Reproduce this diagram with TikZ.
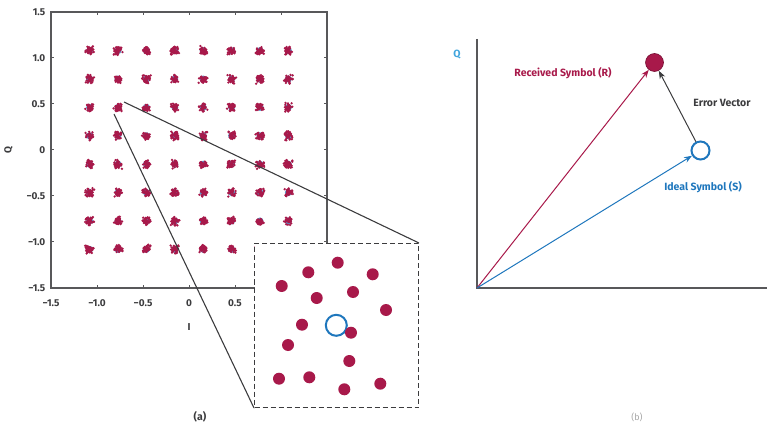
\documentclass[tikz,border=0pt]{standalone}
\usepackage{fontspec}
\setmainfont{Fira Sans}
\usetikzlibrary{arrows.meta}
\definecolor{rxred}{HTML}{A8194A}
\definecolor{idealblue}{HTML}{1F77BD}
\definecolor{qblue}{HTML}{41A5DD}
\definecolor{axisgray}{HTML}{58585A}
\definecolor{textgray}{HTML}{3C3C3E}

\begin{document}
\begin{tikzpicture}[x=1pt, y=-1pt,
    axisline/.style={draw=axisgray, line width=1.3pt},
    ticklabel/.style={font=\fontsize{10}{12}\selectfont\bfseries, text=textgray},
    lbl/.style={font=\fontsize{10.5}{12}\selectfont\bfseries},
    zoomline/.style={draw=textgray, line width=1.1pt},
    vecarrow/.style={line width=1pt, -{Stealth[length=8pt, width=6pt]}}]
    \useasboundingbox (0,0) rectangle (767,435);

    % (a) コンスタレーション
    \begin{scope}[shift={(189,150)}, x=92pt, y=92pt]
      \pgfmathsetseed{42}
      \foreach \i in {-7,-5,...,7} {
        \foreach \j in {-7,-5,...,7} {
          \fill[idealblue!75] (\i*0.1543, \j*0.1543) circle[radius=3.5pt];
          \foreach \k in {1,...,40} {
            \pgfmathsetmacro\px{\i*0.1543+0.026*(rand+rand)}
            \pgfmathsetmacro\py{\j*0.1543+0.026*(rand+rand)}
            \fill[rxred] (\px, \py) circle[radius=1.3pt];
          }
        }
      }
      \draw[axisline] (-1.5,-1.5) rectangle (1.5,1.5);
      \foreach \u in {-1,-0.5,0,0.5,1} {
        \draw[axisline, line width=1pt] (\u,-1.5) -- (\u,-1.465);
        \draw[axisline, line width=1pt] (\u,1.5) -- (\u,1.465);
        \draw[axisline, line width=1pt] (-1.5,\u) -- (-1.465,\u);
        \draw[axisline, line width=1pt] (1.5,\u) -- (1.465,\u);
      }
      \foreach \v/\t in {1.5/1.5, 1/1.0, 0.5/0.5, 0/0, -0.5/−0.5, -1/−1.0, -1.5/−1.5}
        \node[ticklabel, anchor=east, inner sep=0pt] at (-1.56,\v) {\t};
      \foreach \u/\t in {-1.5/−1.5, -1/−1.0, -0.5/−0.5, 0/0, 0.5/0.5}
        \node[ticklabel] at (\u,-1.663) {\t};
      \node[ticklabel] (ilabel) at (0,-1.925) {I};
      \node[ticklabel, rotate=90] (qlabel) at (-1.96,0) {Q};
    \end{scope}

    % 拡大の線
    \coordinate (zoomA) at (124,102);
    \coordinate (zoomB) at (114,114);
    \node[draw=textgray, dashed, dash pattern=on 5pt off 3pt, line width=1pt, fill=white,
          minimum width=164pt, minimum height=164pt, inner sep=0pt] (zoombox) at (336.5,325.5) {};
    \draw[zoomline] (zoomA) -- (zoombox.north east);
    \draw[zoomline] (zoomB) -- (zoombox.south west);

    \foreach \x/\y in {281.7/286, 308.3/272.3, 337.7/262.7, 372.7/274.3, 316.7/298,
                       353/292, 386/310, 302/324.7, 288/345, 349.3/361,
                       279/378.7, 309.3/377.3, 344.3/389.3, 380.3/383.7}
      \fill[rxred] (\x,\y) circle[radius=6pt];
    \draw[idealblue, line width=2pt] (336.3,325.3) circle[radius=10.5pt];
    \fill[rxred] (351,332.7) circle[radius=6pt];
    \node[lbl, text=textgray] (alabel) at (200,417) {(a)};

    % (b) エラーベクトル
    \coordinate (O) at (477,288);
    \coordinate (qtop) at (477,39);
    \coordinate (iend) at (767,288);
    \draw[axisline] (qtop) -- (O) -- (iend);
    \node[circle, fill=rxred, draw=rxred!70!black, line width=0.6pt,
          minimum size=18pt, inner sep=0pt] (R) at (654.5,62.5) {};
    \node[circle, draw=idealblue, line width=2pt, fill=white,
          minimum size=18pt, inner sep=0pt] (S) at (700.5,150.5) {};
    \draw[vecarrow, rxred] (O) -- (R);
    \draw[vecarrow, idealblue] (O) -- (S);
    \draw[vecarrow, textgray] (S) -- (R);
    \node[lbl, text=qblue] (qname) at (457,55) {Q};
    \node[lbl, text=rxred] (rname) at (563,73) {Received Symbol (R)};
    \node[lbl, text=textgray] (ename) at (722,103) {Error Vector};
    \node[lbl, text=idealblue] (sname) at (703,187) {Ideal Symbol (S)};
    \node[lbl, text=black!35, font=\fontsize{9}{10}\selectfont] (blabel) at (637,417) {(b)};
  \end{tikzpicture}
\end{document}
